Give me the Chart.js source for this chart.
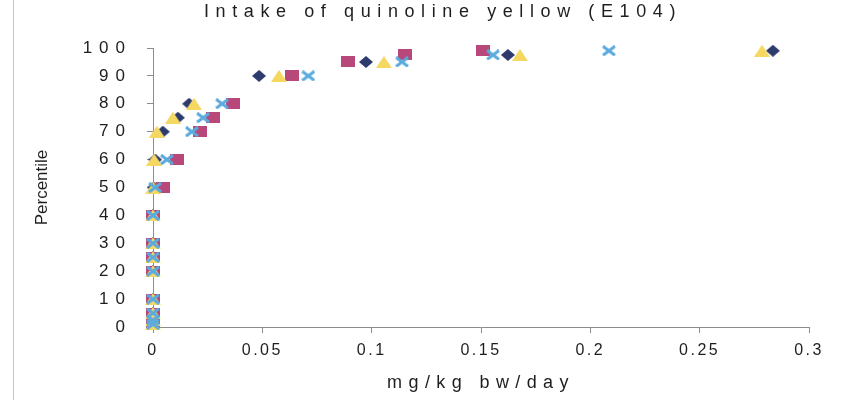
<!DOCTYPE html>
<html>
<head>
<meta charset="utf-8">
<title>Intake of quinoline yellow (E104)</title>
<script src="https://cdn.jsdelivr.net/npm/chart.js@4.4.1/dist/chart.umd.min.js"></script>
<style>
  html, body { margin: 0; padding: 0; background: #ffffff; }
  #wrap { position: relative; width: 864px; height: 400px; overflow: hidden; }
  #edge { position: absolute; left: 13px; top: 0; width: 1px; height: 400px; background: #c4c4c4; }
  #chart { position: absolute; left: 0; top: 0; }
</style>
</head>
<body>
<div id="wrap">
  <div id="edge"></div>
  <canvas id="chart" width="864" height="400"></canvas>
</div>
<script>
// Percentile levels (y) and intake in mg/kg bw/day (x) for each of the four series
const percentiles    = [1, 2.5, 5, 10, 20, 25, 30, 40, 50, 60, 70, 75, 80, 90, 95, 97.5, 99];
const intakeDiamond  = [0, 0, 0, 0, 0, 0, 0, 0, 0.0004, 0.001, 0.0045, 0.0114, 0.0165, 0.0485, 0.0974, 0.1623, 0.2835];
const intakeSquare   = [0, 0, 0, 0, 0, 0, 0, 0, 0.0046, 0.011, 0.0215, 0.0274, 0.0366, 0.0636, 0.0892, 0.1152, 0.151];
const intakeTriangle = [0, 0, 0, 0, 0, 0, 0, 0, 0.0002, 0.0005, 0.0018, 0.0091, 0.0187, 0.0576, 0.1056, 0.1678, 0.2785];
const intakeCross    = [0, 0, 0, 0, 0, 0, 0, 0, 0.001, 0.0064, 0.0178, 0.0229, 0.0316, 0.071, 0.1139, 0.1555, 0.2085];

const seriesNames = ['Series 1', 'Series 2', 'Series 3', 'Series 4'];

const yTickLabels = ['0', '10', '20', '30', '40', '50', '60', '70', '80', '90', '100'];
const xTickLabels = ['0', '0.05', '0.1', '0.15', '0.2', '0.25', '0.3'];

const chartTitle = 'Intake of quinoline yellow (E104)';
const xAxisTitle = 'mg/kg bw/day';
const yAxisTitle = 'Percentile';

// Marker sprites
function makeMarker(kind, color) {
  const c = document.createElement('canvas');
  const g = c.getContext('2d');
  if (kind === 'diamond') {
    c.width = 14; c.height = 12;
    g.fillStyle = color;
    g.beginPath(); g.moveTo(7, 0); g.lineTo(14, 6); g.lineTo(7, 12); g.lineTo(0, 6); g.closePath(); g.fill();
  } else if (kind === 'square') {
    c.width = 14; c.height = 11;
    g.fillStyle = color;
    g.fillRect(0, 0, 14, 11);
  } else if (kind === 'triangle') {
    c.width = 16; c.height = 12;
    g.fillStyle = color;
    g.beginPath(); g.moveTo(8, 0); g.lineTo(16, 12); g.lineTo(0, 12); g.closePath(); g.fill();
  } else {
    c.width = 14; c.height = 11;
    g.strokeStyle = color; g.lineWidth = 3;
    g.beginPath(); g.moveTo(1, 1); g.lineTo(13, 10); g.moveTo(13, 1); g.lineTo(1, 10); g.stroke();
  }
  return c;
}

function toPoints(xs) {
  return xs.map((x, i) => ({ x: x, y: percentiles[i] }));
}

const FONT = "'Liberation Sans', Arial, sans-serif";
const TEXT = '#1e1e1e';
const AXIS = '#8c8c8c';

// letter spacing per text element
const SPACING = { title: '6.6px', xTicks: '2.5px', yTicks: '7px', xTitle: '6.4px' };

function spaced(obj, method, sp) {
  if (!obj || obj['_sp_' + method]) return;
  const orig = obj[method];
  obj[method] = function (...args) {
    const ctx = this.ctx;
    const prev = ctx.letterSpacing;
    ctx.letterSpacing = sp;
    const r = orig.apply(this, args);
    ctx.letterSpacing = prev || '0px';
    return r;
  };
  obj['_sp_' + method] = true;
}

const spacingPlugin = {
  id: 'spacing',
  afterLayout(chart) {
    spaced(chart.titleBlock, 'draw', SPACING.title);
    spaced(chart.scales.x, 'drawLabels', SPACING.xTicks);
    spaced(chart.scales.x, 'drawTitle', SPACING.xTitle);
    spaced(chart.scales.y, 'drawLabels', SPACING.yTicks);
  }
};

const styles = [
  { data: intakeDiamond,  marker: makeMarker('diamond',  '#2c3a6c'), order: 4 },
  { data: intakeSquare,   marker: makeMarker('square',   '#b9487a'), order: 3 },
  { data: intakeTriangle, marker: makeMarker('triangle', '#f4d862'), order: 2 },
  { data: intakeCross,    marker: makeMarker('cross',    '#5aaade'), order: 1 }
];

new Chart(document.getElementById('chart'), {
  type: 'scatter',
  data: {
    datasets: styles.map((s, i) => ({
      label: seriesNames[i],
      data: toPoints(s.data),
      pointStyle: s.marker,
      pointRadius: 7,
      pointHoverRadius: 7,
      order: s.order,
      clip: false,
      showLine: false
    }))
  },
  plugins: [spacingPlugin],
  options: {
    responsive: false,
    devicePixelRatio: 1,
    animation: false,
    events: [],
    layout: { padding: { left: 77, right: 55, top: 0, bottom: 0 } },
    plugins: {
      legend: { display: false },
      tooltip: { enabled: false },
      title: {
        display: true,
        text: chartTitle,
        color: TEXT,
        font: { family: FONT, size: 18, weight: 'normal', lineHeight: 1.2 },
        padding: { top: 1.5, bottom: 24.9 }
      }
    },
    scales: {
      x: {
        type: 'linear',
        min: 0,
        max: 0.3,
        afterBuildTicks: (s) => { s.ticks = xTickLabels.map(v => ({ value: parseFloat(v) })); },
        ticks: {
          autoSkip: false,
          maxRotation: 0,
          padding: 8,
          color: TEXT,
          font: { family: FONT, size: 16 },
          callback: (v, i) => xTickLabels[i]
        },
        grid: { display: true, drawOnChartArea: false, drawTicks: true, tickLength: 6, color: AXIS },
        border: { display: true, color: AXIS, width: 1 },
        title: {
          display: true,
          text: xAxisTitle,
          color: TEXT,
          font: { family: FONT, size: 18 },
          padding: { top: 0, bottom: 6 }
        },
        afterFit: (s) => { s.height = 73; }
      },
      y: {
        type: 'linear',
        min: 0,
        max: 100,
        afterBuildTicks: (s) => { s.ticks = yTickLabels.map(v => ({ value: Number(v) })); },
        ticks: {
          padding: 15,
          color: TEXT,
          font: { family: FONT, size: 17 },
          callback: (v, i) => yTickLabels[i]
        },
        grid: { display: true, drawOnChartArea: false, drawTicks: true, tickLength: 6, color: AXIS },
        border: { display: true, color: AXIS, width: 1 },
        title: {
          display: true,
          text: yAxisTitle,
          color: TEXT,
          font: { family: FONT, size: 17 },
          padding: { top: -45, bottom: 0 }
        },
        afterFit: (s) => { s.width = 76; }
      }
    }
  }
});
</script>
</body>
</html>
